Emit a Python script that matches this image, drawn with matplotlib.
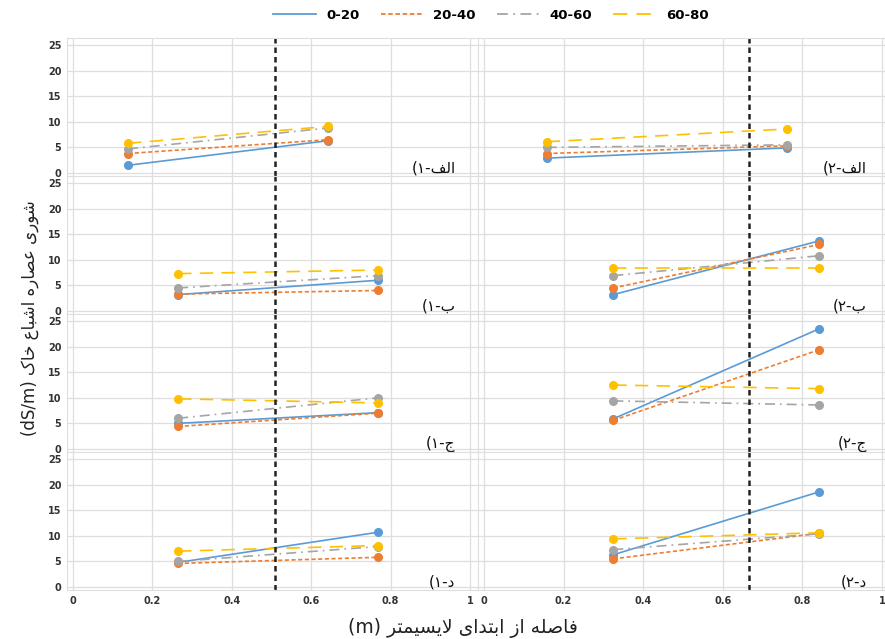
import matplotlib
matplotlib.use("Agg")
import matplotlib.pyplot as plt
from matplotlib.lines import Line2D

plt.rcParams["font.family"] = ["DejaVu Sans"]

# depth classes (legend) and their styles
SERIES = ["0-20", "20-40", "40-60", "60-80"]
COLORS = ["#5B9BD5", "#ED7D31", "#A5A5A5", "#FFC000"]
STYLES = ["-", (0, (2.5, 1.5)), (0, (6, 3, 1, 3)), (0, (8, 5))]

# sampling positions along the lysimeter (m), per row, per column
X_LEFT = [[0.139, 0.642], [0.265, 0.768], [0.265, 0.768], [0.265, 0.768]]
X_RIGHT = [[0.158, 0.761], [0.325, 0.842], [0.325, 0.842], [0.325, 0.842]]

# salinity (dS/m), each row: 0-20, 20-40, 40-60, 60-80
EC_LEFT = [
    [[1.5, 6.3], [3.8, 6.5], [4.7, 8.8], [5.8, 9.1]],
    [[3.2, 6.0], [3.3, 4.0], [4.5, 6.9], [7.3, 8.0]],
    [[5.0, 7.1], [4.4, 7.0], [6.0, 10.0], [9.8, 9.0]],
    [[4.8, 10.7], [4.6, 5.8], [5.0, 7.9], [7.0, 8.1]],
]
EC_RIGHT = [
    [[2.9, 4.9], [3.8, 5.3], [5.0, 5.5], [6.1, 8.6]],
    [[3.2, 13.7], [4.5, 13.0], [6.9, 10.8], [8.4, 8.4]],
    [[5.9, 23.5], [5.6, 19.4], [9.4, 8.6], [12.5, 11.8]],
    [[6.3, 18.6], [5.5, 10.5], [7.3, 10.4], [9.4, 10.6]],
]

# position of the vertical dashed marker line in each column
VLINE = [0.509, 0.667]

# panel letters (shaped, visual order) and column digits
LETTERS = ["\uFED2\uFEDF\uFE8D", "\uFE8F", "\uFE9D", "\uFEA9"]
DIGITS = ["\u06F1", "\u06F2"]

XLABEL = ("(m) "
          "\uFEAE\uFE98\uFEE4\uFEF4\uFEB4\uFEF3\uFEFB "
          "\uFEEF\uFE8D\uFEAA\uFE98\uFE91\uFE8D "
          "\uFEAF\uFE8D "
          "\uFEEA\uFEE0\uFEBB\uFE8E\uFED3")
YLABEL = ("(dS/m) "
          "\uFB8E\uFE8E\uFEA7 "
          "\uFEC9\uFE8E\uFE92\uFEB7\uFE8D "
          "\uFEE9\uFEAD\uFE8E\uFEBC\uFECB "
          "\uFEEF\uFEAD\uFEEE\uFEB7")

W, H = 885, 639


def px_box(x0, x1, y0, y1):
    return [x0 / W, 1 - y1 / H, (x1 - x0) / W, (y1 - y0) / H]


def main():
    fig = plt.figure(figsize=(8.85, 6.39), dpi=100)
    row_top = 38
    row_h = 138
    cols = [
        (67, 478, (-0.015, 1.020), X_LEFT, EC_LEFT),
        (478, 885, (-0.015, 1.0075), X_RIGHT, EC_RIGHT),
    ]
    for c, (x0, x1, xlim, xs, ecs) in enumerate(cols):
        for r in range(4):
            y0 = row_top + r * row_h
            ax = fig.add_axes(px_box(x0, x1, y0, y0 + row_h))
            for s in range(4):
                ax.plot(xs[r], ecs[r][s], color=COLORS[s], ls=STYLES[s],
                        lw=1.2, marker="o", ms=5.5)
            ax.axvline(VLINE[c], color="#222222", ls=(0, (2.2, 1.6)), lw=1.8)
            ax.set_xlim(*xlim)
            ax.set_ylim(-0.6, 26.4)
            ax.set_xticks([0, 0.2, 0.4, 0.6, 0.8, 1])
            ax.set_xticklabels(["0", "0.2", "0.4", "0.6", "0.8", "1"])
            ax.set_yticks([0, 5, 10, 15, 20, 25])
            ax.grid(True, color="#dedede", lw=0.9)
            ax.set_axisbelow(True)
            for sp in ax.spines.values():
                sp.set_color("#dedede")
            ax.tick_params(length=0, labelsize=7, colors="#333333", pad=4)
            for lab in ax.get_xticklabels() + ax.get_yticklabels():
                lab.set_fontweight("bold")
            if c == 1:
                ax.tick_params(labelleft=False)
            if r < 3:
                ax.tick_params(labelbottom=False)
            ax.text(0.945 if c == 0 else 0.955, 0.06,
                    "(" + DIGITS[c] + "-" + LETTERS[r],
                    transform=ax.transAxes, ha="right", va="center",
                    fontsize=11, color="#111111")

    handles = [Line2D([], [], color=COLORS[s], ls=STYLES[s], lw=1.3)
               for s in range(4)]
    fig.legend(handles, SERIES, loc="upper center", bbox_to_anchor=(0.555, 1.005),
               ncol=4, frameon=False, handlelength=3.2, columnspacing=1.6,
               prop={"weight": "bold", "size": 9.5})
    fig.text(0.523, 0.017, XLABEL, ha="center", va="center", fontsize=13.5,
             color="#222222")
    fig.text(0.034, 0.502, YLABEL, ha="center", va="center", rotation=90,
             fontsize=12, color="#222222")
    fig.savefig("out.png", dpi=100)


if __name__ == "__main__":
    main()
